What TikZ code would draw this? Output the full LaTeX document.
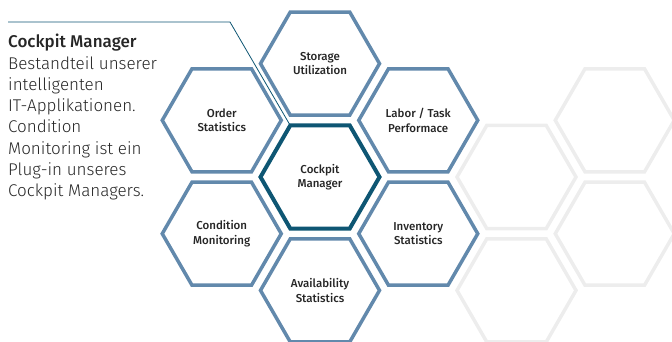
\documentclass[tikz,border=0pt]{standalone}
\usepackage{fontspec}
\setmainfont{Fira Sans Light}[BoldFont=Fira Sans Medium]
\usepackage{xcolor}
\usetikzlibrary{calc, shapes.geometric}

\definecolor{hexblue}{HTML}{6289AC}
\definecolor{hexdark}{HTML}{0E5673}
\definecolor{hexgrey}{HTML}{EDEDED}

\begin{document}
\begin{tikzpicture}[x=1pt, y=-1pt,
		hex/.style = {regular polygon, regular polygon sides=6, minimum size=119pt, inner sep=0pt, outer sep=0pt, draw=hexblue, line width=3.5pt, align=center, text=black!85, font=\fontsize{11.5}{14.5}\selectfont\bfseries},
		hex centre/.style = {hex, draw=hexdark, line width=4pt},
		hex faint/.style = {hex, draw=hexgrey}]
		\def\dx{98.25};
		\def\dy{56.7};
		
		\useasboundingbox (0,0) rectangle (672,342);
		
		\coordinate (cockpit centre) at (320,177);
		
		\node [hex centre] (cockpit) at (cockpit centre) {Cockpit\\Manager};
		\node [hex] (storage) at ($ (cockpit centre) + (0,{-2*\dy}) $) {Storage\\Utilization};
		\node [hex] (order) at ($ (cockpit centre) + ({-\dx},{-\dy}) $) {Order\\Statistics};
		\node [hex] (labor) at ($ (cockpit centre) + (\dx,{-\dy}) $) {Labor / Task\\Performace};
		\node [hex] (condition) at ($ (cockpit centre) + ({-\dx},\dy) $) {Condition\\Monitoring};
		\node [hex] (inventory) at ($ (cockpit centre) + (\dx,\dy) $) {Inventory\\Statistics};
		\node [hex] (availability) at ($ (cockpit centre) + (0,{2*\dy}) $) {Availability\\Statistics};
		
		%empty cells
		\foreach \name/\i/\j in {east/2/0, north east/3/-1, south east/3/1, far south/2/2}
			\node [hex faint] (faint \name) at ($ (cockpit centre) + ({\i*\dx},{\j*\dy}) $) {};
		
		%description
		\coordinate (line start) at (8,22);
		\coordinate (line bend) at (230,22);
		\draw [hexdark, line width=0.8pt] (line start) -- (line bend) -- (cockpit.corner 2);
		
		\node [anchor=north west, align=left, inner sep=0pt, text=black!85, font=\fontsize{17}{21.3}\selectfont] (intro) at (8,34) {\textbf{Cockpit Manager}\\Bestandteil unserer\\intelligenten\\IT-Applikationen.\\Condition\\Monitoring ist ein\\Plug-in unseres\\Cockpit Managers.};
	\end{tikzpicture}
\end{document}
